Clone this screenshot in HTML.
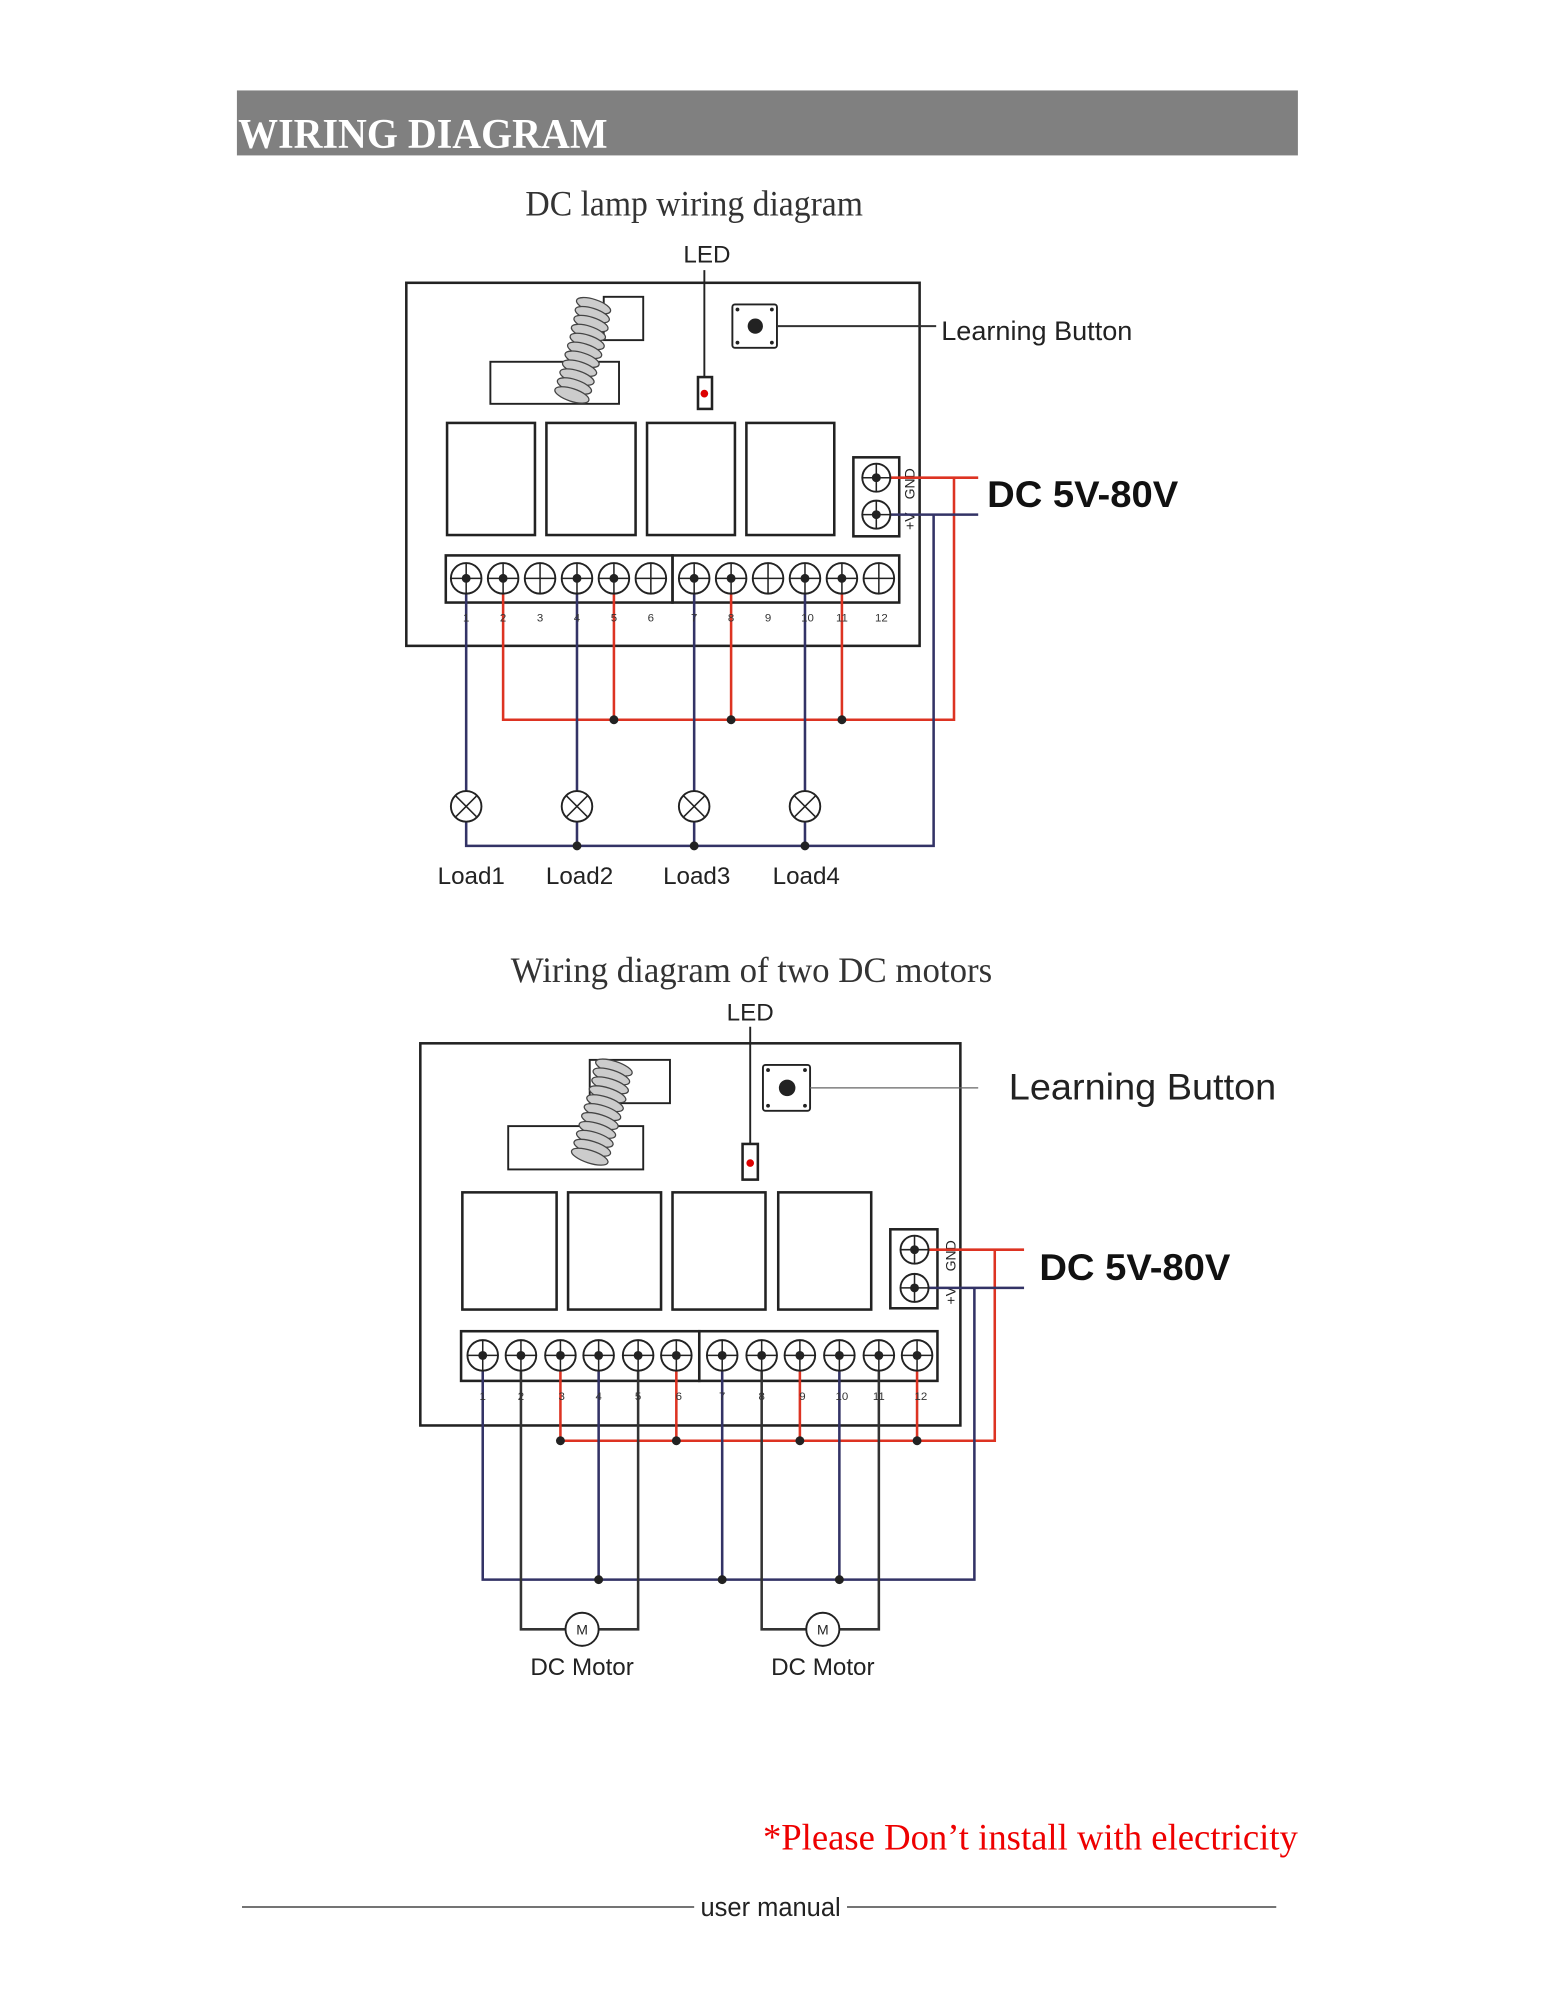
<!DOCTYPE html>
<html><head><meta charset="utf-8"><style>
html,body{margin:0;padding:0;background:#fff;}
svg{display:block;}
.s{font-family:"Liberation Sans",sans-serif;}
.r{font-family:"Liberation Serif",serif;}
</style></head><body>
<svg width="1545" height="2000" viewBox="0 0 1213 1570" preserveAspectRatio="none" xmlns="http://www.w3.org/2000/svg">
<rect x="186" y="71" width="833" height="51" fill="#808080"/>
<text x="187" y="116" class="r" font-size="33" font-weight="bold" fill="#fff" textLength="290" lengthAdjust="spacingAndGlyphs">WIRING DIAGRAM</text>

<!-- Diagram 1 -->
<text x="545" y="169" class="r" font-size="28" fill="#333" text-anchor="middle" textLength="265" lengthAdjust="spacingAndGlyphs">DC lamp wiring diagram</text>
<text x="555" y="206" class="s" font-size="19" fill="#222" text-anchor="middle">LED</text>
<g fill="none" stroke="#222" stroke-width="2">
<rect x="319" y="222" width="403" height="285"/>
<rect x="474" y="233" width="31" height="34" stroke-width="1.5"/>
<rect x="385" y="284" width="101" height="33" stroke-width="1.5"/>
<rect x="351" y="332" width="69" height="88"/><rect x="429" y="332" width="70" height="88"/>
<rect x="508" y="332" width="69" height="88"/><rect x="586" y="332" width="69" height="88"/>
<rect x="575" y="239" width="35" height="34" rx="2" stroke-width="1.5"/>
<rect x="548" y="296" width="11" height="25"/>
<rect x="670" y="359" width="36" height="62"/>
<rect x="350" y="436" width="178" height="37"/><rect x="528" y="436" width="178" height="37"/>
</g>
<g fill="#ccc" stroke="#444" stroke-width="1">
<ellipse cx="466" cy="240" rx="14" ry="5" transform="rotate(18 466 240)"/><ellipse cx="465" cy="247" rx="14" ry="5" transform="rotate(18 465 247)"/><ellipse cx="464" cy="254" rx="14" ry="5" transform="rotate(18 464 254)"/><ellipse cx="462" cy="261" rx="14" ry="5" transform="rotate(18 462 261)"/><ellipse cx="461" cy="268" rx="14" ry="5" transform="rotate(18 461 268)"/><ellipse cx="459" cy="275" rx="14" ry="5" transform="rotate(18 459 275)"/><ellipse cx="457" cy="282" rx="14" ry="5" transform="rotate(18 457 282)"/><ellipse cx="455" cy="289" rx="14" ry="5" transform="rotate(18 455 289)"/><ellipse cx="453" cy="296" rx="14" ry="5" transform="rotate(18 453 296)"/><ellipse cx="451" cy="303" rx="14" ry="5" transform="rotate(18 451 303)"/><ellipse cx="449" cy="310" rx="14" ry="5" transform="rotate(18 449 310)"/>
</g>
<line x1="553" y1="212" x2="553" y2="296" stroke="#222" stroke-width="1.5"/>
<circle cx="553" cy="309" r="3" fill="#d00"/>
<circle cx="593" cy="256" r="6" fill="#222"/>
<g fill="#222"><circle cx="579" cy="243" r="1.5"/><circle cx="606" cy="243" r="1.5"/><circle cx="579" cy="269" r="1.5"/><circle cx="606" cy="269" r="1.5"/></g>
<line x1="610" y1="256" x2="735" y2="256" stroke="#333" stroke-width="1.5"/>
<text x="739" y="267" class="s" font-size="21" fill="#222" textLength="150" lengthAdjust="spacingAndGlyphs">Learning Button</text>
<text transform="translate(718 392) rotate(-90)" class="s" font-size="11" fill="#222">GND</text>
<text transform="translate(718 416) rotate(-90)" class="s" font-size="11" fill="#222">+V</text>
<g fill="none" stroke-width="2">
<path d="M688 375H768M749 375V565H395V454M482 454V565M574 454V565M661 454V565" stroke="#d32"/>
<path d="M688 404H768M733 404V664H366V454M453 454V664M545 454V664M632 454V664" stroke="#336"/>
</g>
<g fill="#fff" stroke="#222" stroke-width="1.5">
<circle cx="688" cy="375" r="11"/><circle cx="688" cy="404" r="11"/>
<circle cx="366" cy="454" r="12"/><circle cx="395" cy="454" r="12"/><circle cx="424" cy="454" r="12"/><circle cx="453" cy="454" r="12"/><circle cx="482" cy="454" r="12"/><circle cx="511" cy="454" r="12"/>
<circle cx="545" cy="454" r="12"/><circle cx="574" cy="454" r="12"/><circle cx="603" cy="454" r="12"/><circle cx="632" cy="454" r="12"/><circle cx="661" cy="454" r="12"/><circle cx="690" cy="454" r="12"/>
<circle cx="366" cy="633" r="12"/><circle cx="453" cy="633" r="12"/><circle cx="545" cy="633" r="12"/><circle cx="632" cy="633" r="12"/>
</g>
<g stroke="#222" stroke-width="1.2">
<path d="M677 375h22M688 364v22M677 404h22M688 393v22"/>
<path d="M354 454h24M366 442v24M383 454h24M395 442v24M412 454h24M424 442v24M441 454h24M453 442v24M470 454h24M482 442v24M499 454h24M511 442v24M533 454h24M545 442v24M562 454h24M574 442v24M591 454h24M603 442v24M620 454h24M632 442v24M649 454h24M661 442v24M678 454h24M690 442v24"/>
<path d="M358 625l16 16M374 625l-16 16M445 625l16 16M461 625l-16 16M537 625l16 16M553 625l-16 16M624 625l16 16M640 625l-16 16"/>
</g>
<g fill="#222"><circle cx="366" cy="454" r="3.5"/><circle cx="395" cy="454" r="3.5"/><circle cx="453" cy="454" r="3.5"/><circle cx="482" cy="454" r="3.5"/><circle cx="545" cy="454" r="3.5"/><circle cx="574" cy="454" r="3.5"/><circle cx="632" cy="454" r="3.5"/><circle cx="661" cy="454" r="3.5"/><circle cx="688" cy="375" r="3.5"/><circle cx="688" cy="404" r="3.5"/>
<circle cx="482" cy="565" r="3.5"/><circle cx="574" cy="565" r="3.5"/><circle cx="661" cy="565" r="3.5"/><circle cx="453" cy="664" r="3.5"/><circle cx="545" cy="664" r="3.5"/><circle cx="632" cy="664" r="3.5"/></g>
<g class="s" font-size="9" fill="#333" text-anchor="middle"><text x="366" y="488">1</text><text x="395" y="488">2</text><text x="424" y="488">3</text><text x="453" y="488">4</text><text x="482" y="488">5</text><text x="511" y="488">6</text><text x="545" y="488">7</text><text x="574" y="488">8</text><text x="603" y="488">9</text><text x="634" y="488">10</text><text x="661" y="488">11</text><text x="692" y="488">12</text></g>
<text x="775" y="398" class="s" font-size="29" font-weight="bold" fill="#111" textLength="150" lengthAdjust="spacingAndGlyphs">DC 5V-80V</text>
<g class="s" font-size="19" fill="#222" text-anchor="middle"><text x="370" y="694">Load1</text><text x="455" y="694">Load2</text><text x="547" y="694">Load3</text><text x="633" y="694">Load4</text></g>

<!-- Diagram 2 -->
<text x="590" y="771" class="r" font-size="28" fill="#333" text-anchor="middle" textLength="378" lengthAdjust="spacingAndGlyphs">Wiring diagram of two DC motors</text>
<text x="589" y="801" class="s" font-size="19" fill="#222" text-anchor="middle">LED</text>
<g fill="none" stroke="#222" stroke-width="2">
<rect x="330" y="819" width="424" height="300"/>
<rect x="463" y="832" width="63" height="34" stroke-width="1.5"/>
<rect x="399" y="884" width="106" height="34" stroke-width="1.5"/>
<rect x="363" y="936" width="74" height="92"/><rect x="446" y="936" width="73" height="92"/>
<rect x="528" y="936" width="73" height="92"/><rect x="611" y="936" width="73" height="92"/>
<rect x="599" y="836" width="37" height="36" rx="2" stroke-width="1.5"/>
<rect x="583" y="898" width="12" height="28"/>
<rect x="699" y="965" width="37" height="62"/>
<rect x="362" y="1045" width="187" height="39"/><rect x="549" y="1045" width="187" height="39"/>
</g>
<g fill="#ccc" stroke="#444" stroke-width="1">
<ellipse cx="482" cy="838" rx="15" ry="5" transform="rotate(18 482 838)"/><ellipse cx="480" cy="845" rx="15" ry="5" transform="rotate(18 480 845)"/><ellipse cx="479" cy="852" rx="15" ry="5" transform="rotate(18 479 852)"/><ellipse cx="477" cy="859" rx="15" ry="5" transform="rotate(18 477 859)"/><ellipse cx="475" cy="866" rx="15" ry="5" transform="rotate(18 475 866)"/><ellipse cx="473" cy="873" rx="15" ry="5" transform="rotate(18 473 873)"/><ellipse cx="471" cy="880" rx="15" ry="5" transform="rotate(18 471 880)"/><ellipse cx="469" cy="887" rx="15" ry="5" transform="rotate(18 469 887)"/><ellipse cx="467" cy="894" rx="15" ry="5" transform="rotate(18 467 894)"/><ellipse cx="465" cy="901" rx="15" ry="5" transform="rotate(18 465 901)"/><ellipse cx="463" cy="908" rx="15" ry="5" transform="rotate(18 463 908)"/>
</g>
<line x1="589" y1="806" x2="589" y2="898" stroke="#222" stroke-width="1.5"/>
<circle cx="589" cy="913" r="3" fill="#d00"/>
<circle cx="618" cy="854" r="6.5" fill="#222"/>
<g fill="#222"><circle cx="603" cy="840" r="1.5"/><circle cx="632" cy="840" r="1.5"/><circle cx="603" cy="868" r="1.5"/><circle cx="632" cy="868" r="1.5"/></g>
<line x1="636" y1="854" x2="768" y2="854" stroke="#666" stroke-width="1"/>
<text x="792" y="863" class="s" font-size="29" fill="#222" textLength="210" lengthAdjust="spacingAndGlyphs">Learning Button</text>
<text transform="translate(750 998) rotate(-90)" class="s" font-size="11" fill="#222">GND</text>
<text transform="translate(750 1024) rotate(-90)" class="s" font-size="11" fill="#222">+V</text>
<g fill="none" stroke-width="2">
<path d="M718 981H804M781 981V1131H440V1064M531 1064V1131M628 1064V1131M720 1064V1131" stroke="#d32"/>
<path d="M718 1011H804M765 1011V1240H379V1064M470 1064V1240M567 1064V1240M659 1064V1240" stroke="#336"/>
<path d="M409 1064V1279H444M470 1279H501V1064M598 1064V1279H633M659 1279H690V1064" stroke="#333"/>
</g>
<g fill="#fff" stroke="#222" stroke-width="1.5">
<circle cx="718" cy="981" r="11"/><circle cx="718" cy="1011" r="11"/>
<circle cx="379" cy="1064" r="12"/><circle cx="409" cy="1064" r="12"/><circle cx="440" cy="1064" r="12"/><circle cx="470" cy="1064" r="12"/><circle cx="501" cy="1064" r="12"/><circle cx="531" cy="1064" r="12"/>
<circle cx="567" cy="1064" r="12"/><circle cx="598" cy="1064" r="12"/><circle cx="628" cy="1064" r="12"/><circle cx="659" cy="1064" r="12"/><circle cx="690" cy="1064" r="12"/><circle cx="720" cy="1064" r="12"/>
<circle cx="457" cy="1279" r="13"/><circle cx="646" cy="1279" r="13"/>
</g>
<g stroke="#222" stroke-width="1.2">
<path d="M707 981h22M718 970v22M707 1011h22M718 1000v22"/>
<path d="M367 1064h24M379 1052v24M397 1064h24M409 1052v24M428 1064h24M440 1052v24M458 1064h24M470 1052v24M489 1064h24M501 1052v24M519 1064h24M531 1052v24M555 1064h24M567 1052v24M586 1064h24M598 1052v24M616 1064h24M628 1052v24M647 1064h24M659 1052v24M678 1064h24M690 1052v24M708 1064h24M720 1052v24"/>
</g>
<g fill="#222"><circle cx="379" cy="1064" r="3.5"/><circle cx="409" cy="1064" r="3.5"/><circle cx="440" cy="1064" r="3.5"/><circle cx="470" cy="1064" r="3.5"/><circle cx="501" cy="1064" r="3.5"/><circle cx="531" cy="1064" r="3.5"/><circle cx="567" cy="1064" r="3.5"/><circle cx="598" cy="1064" r="3.5"/><circle cx="628" cy="1064" r="3.5"/><circle cx="659" cy="1064" r="3.5"/><circle cx="690" cy="1064" r="3.5"/><circle cx="720" cy="1064" r="3.5"/><circle cx="718" cy="981" r="3.5"/><circle cx="718" cy="1011" r="3.5"/>
<circle cx="440" cy="1131" r="3.5"/><circle cx="531" cy="1131" r="3.5"/><circle cx="628" cy="1131" r="3.5"/><circle cx="720" cy="1131" r="3.5"/><circle cx="470" cy="1240" r="3.5"/><circle cx="567" cy="1240" r="3.5"/><circle cx="659" cy="1240" r="3.5"/></g>
<g class="s" font-size="9" fill="#333" text-anchor="middle"><text x="379" y="1099">1</text><text x="409" y="1099">2</text><text x="441" y="1099">3</text><text x="470" y="1099">4</text><text x="501" y="1099">5</text><text x="533" y="1099">6</text><text x="567" y="1099">7</text><text x="598" y="1099">8</text><text x="630" y="1099">9</text><text x="661" y="1099">10</text><text x="690" y="1099">11</text><text x="723" y="1099">12</text></g>
<g class="s" font-size="11" fill="#222" text-anchor="middle"><text x="457" y="1283">M</text><text x="646" y="1283">M</text></g>
<text x="816" y="1005" class="s" font-size="29" font-weight="bold" fill="#111" textLength="150" lengthAdjust="spacingAndGlyphs">DC 5V-80V</text>
<g class="s" font-size="19" fill="#222" text-anchor="middle"><text x="457" y="1315">DC Motor</text><text x="646" y="1315">DC Motor</text></g>

<text x="1019" y="1452" class="r" font-size="29" fill="#e00" text-anchor="end" textLength="420" lengthAdjust="spacingAndGlyphs">*Please Don’t install with electricity</text>
<line x1="190" y1="1497" x2="545" y2="1497" stroke="#222" stroke-width="1"/>
<line x1="665" y1="1497" x2="1002" y2="1497" stroke="#222" stroke-width="1"/>
<text x="605" y="1504" class="s" font-size="20" fill="#222" text-anchor="middle">user manual</text>
</svg>
</body></html>
